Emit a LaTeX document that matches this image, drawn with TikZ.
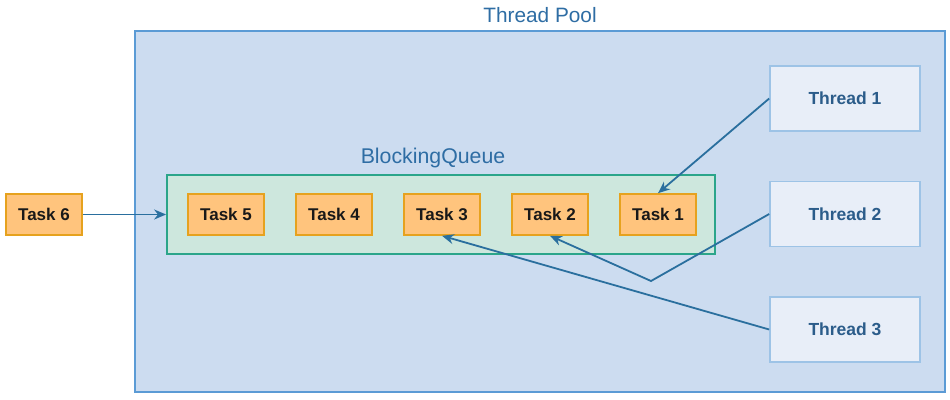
\documentclass[tikz,border=0pt]{standalone}
\usepackage{fontspec}
\setmainfont{Liberation Sans}
\usetikzlibrary{arrows.meta}
\definecolor{poolfill}{HTML}{CCDCF0}
\definecolor{pooldraw}{HTML}{5B9BD5}
\definecolor{qfill}{HTML}{CDE7DD}
\definecolor{qdraw}{HTML}{2BA58A}
\definecolor{taskfill}{HTML}{FFC47D}
\definecolor{taskdraw}{HTML}{E6A21E}
\definecolor{thfill}{HTML}{E8EEF8}
\definecolor{thdraw}{HTML}{9DC3E6}
\definecolor{arrowc}{HTML}{2A6F9E}
\definecolor{titlec}{HTML}{2E6DA4}
\definecolor{thtext}{HTML}{2B5C8A}
\tikzset{
  pool/.style={draw=pooldraw, fill=poolfill, line width=2pt, minimum width=810pt, minimum height=361pt, inner sep=0pt},
  queue/.style={draw=qdraw, fill=qfill, line width=1.8pt, minimum width=548pt, minimum height=79pt, inner sep=0pt},
  task/.style={draw=taskdraw, fill=taskfill, line width=1.6pt, minimum width=76pt, minimum height=41pt, inner sep=0pt, font=\fontsize{17}{19}\selectfont\bfseries, text=black!90},
  thread/.style={draw=thdraw, fill=thfill, line width=1.6pt, minimum width=150pt, minimum height=65pt, inner sep=0pt, font=\fontsize{17.5}{19}\selectfont\bfseries, text=thtext},
  title/.style={inner sep=0pt, text=titlec, font=\fontsize{20.8}{23}\selectfont},
  qtitlestyle/.style={inner sep=0pt, text=titlec, font=\fontsize{21.3}{23}\selectfont},
  conn/.style={draw=arrowc, line width=1.8pt, -{Stealth[length=12pt,width=10pt]}}
}
\begin{document}
\begin{tikzpicture}[x=1pt,y=-1pt]
\useasboundingbox (0,0) rectangle (950,399);
\fill[white] (0,0) rectangle (950,399);
\node[pool] (pool) at (540,211.5) {};
\node[title] (pooltitle) at (540,15) {Thread Pool};
\node[queue] (queue) at (441,214.5) {};
\node[qtitlestyle] (qtitle) at (433,158) {BlockingQueue};
\node[task] (t6) at (44,214.5) {Task 6};
\node[task] (t5) at (226,214.5) {Task 5};
\node[task] (t4) at (334,214.5) {Task 4};
\node[task] (t3) at (442,214.5) {Task 3};
\node[task] (t2) at (550,214.5) {Task 2};
\node[task] (t1) at (658,214.5) {Task 1};
\node[thread] (th1) at (845,98.5) {Thread 1};
\node[thread] (th2) at (845,214) {Thread 2};
\node[thread] (th3) at (845,329.5) {Thread 3};
\coordinate (bend) at (651,281);
\draw[conn] (t6.east) -- (queue.west);
\draw[conn] (th1.west) -- (t1.north);
\draw[conn] (th2.west) -- (bend) -- (t2.south);
\draw[conn] (th3.west) -- (t3.south);
\end{tikzpicture}
\end{document}
